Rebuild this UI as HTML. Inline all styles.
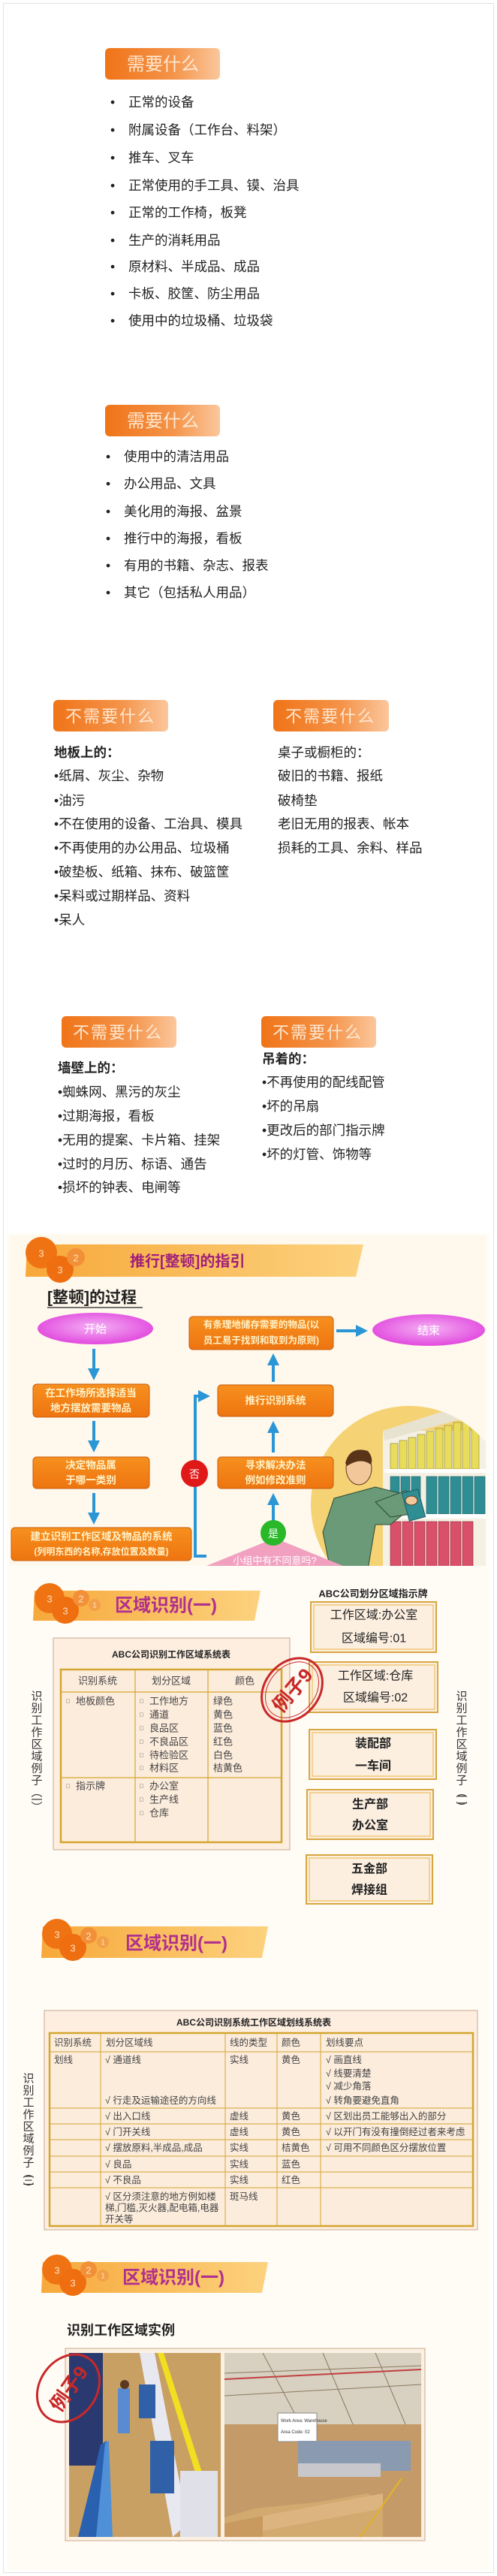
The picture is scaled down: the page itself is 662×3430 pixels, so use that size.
<!DOCTYPE html>
<html><head><meta charset="utf-8"><style>
html,body{margin:0;padding:0;background:#fff}
svg{display:block}
text{font-family:"Liberation Sans","Noto Sans CJK SC",sans-serif}
.s{font-family:"Liberation Serif","Noto Serif CJK SC",serif}
</style></head><body>
<svg width="662" height="3430" viewBox="0 0 662 3430" xmlns="http://www.w3.org/2000/svg">
<defs>
<linearGradient id="btn" x1="0" y1="0" x2="1" y2="0"><stop offset="0" stop-color="#f07418"/><stop offset="0.6" stop-color="#f4944a"/><stop offset="1" stop-color="#fbc79c"/></linearGradient>
<linearGradient id="band" x1="0" y1="0" x2="1" y2="0"><stop offset="0" stop-color="#f7a83a"/><stop offset="1" stop-color="#fcd27e"/></linearGradient>
<linearGradient id="box" x1="0" y1="0" x2="0" y2="1"><stop offset="0" stop-color="#f7901e"/><stop offset="1" stop-color="#ee7410"/></linearGradient>
<radialGradient id="ell" cx="0.5" cy="0.45" r="0.6"><stop offset="0" stop-color="#f4b0f4"/><stop offset="1" stop-color="#e040dc"/></radialGradient>
<clipPath id="pc"><circle cx="545" cy="2003" r="131"/></clipPath>
<clipPath id="pn"><rect x="13" y="1645" width="634" height="440"/></clipPath>
<marker id="ar" markerWidth="4" markerHeight="4" refX="2" refY="2" orient="auto" markerUnits="strokeWidth"><path d="M0,0 L4,2 L0,4 z" fill="#2a96d6"/></marker>
</defs>
<rect x="4.5" y="4.5" width="653" height="3421" fill="#fff" stroke="#e2e2e2"/>

<!-- Section 1 -->
<rect x="140" y="64" width="153" height="42" rx="6" fill="url(#btn)"/>
<text x="169" y="86" font-size="24" fill="#fde8d2" dominant-baseline="central">需要什么</text>
<g font-size="17.5" fill="#222" dominant-baseline="central">
<text x="147" y="136">•</text><text x="171" y="136">正常的设备</text>
<text x="147" y="173">•</text><text x="171" y="173">附属设备（工作台、料架）</text>
<text x="147" y="210">•</text><text x="171" y="210">推车、叉车</text>
<text x="147" y="247">•</text><text x="171" y="247">正常使用的手工具、镆、治具</text>
<text x="147" y="283">•</text><text x="171" y="283">正常的工作椅，板凳</text>
<text x="147" y="320">•</text><text x="171" y="320">生产的消耗用品</text>
<text x="147" y="355">•</text><text x="171" y="355">原材料、半成品、成品</text>
<text x="147" y="391">•</text><text x="171" y="391">卡板、胶筐、防尘用品</text>
<text x="147" y="427">•</text><text x="171" y="427">使用中的垃圾桶、垃圾袋</text>
</g>

<!-- Section 2 -->
<rect x="140" y="539" width="153" height="42" rx="6" fill="url(#btn)"/>
<text x="169" y="561" font-size="24" fill="#fde8d2" dominant-baseline="central">需要什么</text>
<g font-size="17.5" fill="#222" dominant-baseline="central">
<text x="141" y="608">•</text><text x="165" y="608">使用中的清洁用品</text>
<text x="141" y="644">•</text><text x="165" y="644">办公用品、文具</text>
<text x="141" y="681">•</text><text x="165" y="681">美化用的海报、盆景</text>
<text x="141" y="717">•</text><text x="165" y="717">推行中的海报，看板</text>
<text x="141" y="753">•</text><text x="165" y="753">有用的书籍、杂志、报表</text>
<text x="141" y="789">•</text><text x="165" y="789">其它（包括私人用品）</text>
</g>

<!-- Section 3: 不需要什么 -->
<g font-size="22" fill="#fde8d2" dominant-baseline="central" letter-spacing="2">
<rect x="71" y="932" width="153" height="42" rx="6" fill="url(#btn)"/><text x="87" y="954">不需要什么</text>
<rect x="364" y="932" width="154" height="42" rx="6" fill="url(#btn)"/><text x="380" y="954">不需要什么</text>
<rect x="82" y="1353" width="153" height="42" rx="6" fill="url(#btn)"/><text x="97" y="1375">不需要什么</text>
<rect x="348" y="1353" width="153" height="42" rx="6" fill="url(#btn)"/><text x="363" y="1375">不需要什么</text>
</g>
<g font-size="17.5" fill="#222" dominant-baseline="central">
<text x="72" y="1002" font-weight="bold">地板上的：</text>
<text x="72" y="1033">•纸屑、灰尘、杂物</text>
<text x="72" y="1066">•油污</text>
<text x="72" y="1097">•不在使用的设备、工治具、模具</text>
<text x="72" y="1129">•不再使用的办公用品、垃圾桶</text>
<text x="72" y="1161">•破垫板、纸箱、抹布、破篮筐</text>
<text x="72" y="1193">•呆料或过期样品、资料</text>
<text x="72" y="1225">•呆人</text>
<text x="370" y="1002">桌子或橱柜的：</text>
<text x="370" y="1033">破旧的书籍、报纸</text>
<text x="370" y="1066">破椅垫</text>
<text x="370" y="1097">老旧无用的报表、帐本</text>
<text x="370" y="1129">损耗的工具、余料、样品</text>
<text x="77" y="1422" font-weight="bold">墙壁上的：</text>
<text x="77" y="1454">•蜘蛛网、黑污的灰尘</text>
<text x="77" y="1486">•过期海报，看板</text>
<text x="77" y="1518">•无用的提案、卡片箱、挂架</text>
<text x="77" y="1550">•过时的月历、标语、通告</text>
<text x="77" y="1581">•损坏的钟表、电闸等</text>
<text x="349" y="1410" font-weight="bold">吊着的：</text>
<text x="349" y="1441">•不再使用的配线配管</text>
<text x="349" y="1473">•坏的吊扇</text>
<text x="349" y="1505">•更改后的部门指示牌</text>
<text x="349" y="1537">•坏的灯管、饰物等</text>
</g>

<!-- lower cream background -->
<rect x="10" y="1642" width="642" height="1780" fill="#fffcf6"/>

<!-- Flowchart panel -->
<rect x="13" y="1645" width="634" height="440" fill="#fff8ec"/>
<g clip-path="url(#pn)">
<g clip-path="url(#pc)">
<rect x="400" y="1860" width="280" height="260" fill="#f5d374"/>
<rect x="510" y="1905" width="140" height="190" fill="#f4f0e4"/>
<polygon points="510,1905 650,1860 650,1880 512,1918" fill="#e8e2d0"/>
<g fill="#e8dc5a" stroke="#8a8030" stroke-width="0.6">
<rect x="520" y="1922" width="10" height="34"/><rect x="532" y="1918" width="10" height="38"/><rect x="544" y="1914" width="10" height="42"/><rect x="556" y="1910" width="10" height="46"/><rect x="568" y="1906" width="10" height="50"/><rect x="580" y="1902" width="10" height="54"/><rect x="592" y="1898" width="10" height="58"/><rect x="604" y="1894" width="10" height="62"/><rect x="616" y="1890" width="10" height="66"/><rect x="628" y="1886" width="10" height="70"/></g>
<rect x="512" y="1956" width="140" height="5" fill="#fff"/>
<g fill="#2f8e94" stroke="#1a5a60" stroke-width="0.6">
<rect x="520" y="1966" width="12" height="50"/><rect x="534" y="1966" width="12" height="50"/><rect x="548" y="1966" width="12" height="50"/><rect x="568" y="1966" width="14" height="50"/><rect x="584" y="1966" width="14" height="50"/><rect x="600" y="1966" width="14" height="50"/><rect x="616" y="1966" width="14" height="50"/><rect x="632" y="1966" width="14" height="50"/></g>
<rect x="512" y="2016" width="140" height="6" fill="#fff"/>
<g fill="#d8506a" stroke="#8a2030" stroke-width="0.6">
<rect x="520" y="2026" width="14" height="60"/><rect x="536" y="2026" width="14" height="60"/><rect x="552" y="2026" width="14" height="60"/><rect x="568" y="2026" width="14" height="60"/><rect x="584" y="2026" width="14" height="60"/><rect x="600" y="2026" width="14" height="60"/><rect x="616" y="2026" width="14" height="60"/></g>
<polygon points="445,1995 500,1980 540,1990 545,2010 520,2030 500,2030 490,2090 440,2090 430,2040" fill="#6a9a78" stroke="#2c4a34" stroke-width="1"/>
<polygon points="500,2000 540,1985 560,1995 555,2015 520,2020" fill="#6a9a78" stroke="#2c4a34" stroke-width="1"/>
<ellipse cx="478" cy="1955" rx="17" ry="22" fill="#f2c79a" stroke="#5a3a20"/>
<path d="M460,1948 Q466,1925 490,1932 Q498,1942 494,1950 Q480,1940 462,1952 z" fill="#5a3418"/>
<rect x="540" y="1985" width="22" height="38" fill="#2f8e94" stroke="#1a5a60" transform="rotate(-15 551 2004)"/>
<ellipse cx="548" cy="1998" rx="8" ry="6" fill="#f2c79a" stroke="#5a3a20"/>
</g>
</g>
<!-- header band 1 -->
<polygon points="36,1657 484,1657 474,1700 34,1700" fill="url(#band)"/>
<circle cx="55" cy="1668" r="21" fill="#ef7312"/><circle cx="80" cy="1690" r="18" fill="#ee6e10"/><circle cx="101" cy="1674" r="12" fill="#f29038"/>
<g font-size="13" fill="#fde0c0" dominant-baseline="central" text-anchor="middle"><text x="55" y="1669">3</text><text x="80" y="1691">3</text><text x="101" y="1675">2</text></g>
<text x="173" y="1680" font-size="20" font-weight="bold" fill="#a0207a" dominant-baseline="central">推行[整顿]的指引</text>
<text x="63" y="1728" font-size="21" font-weight="bold" fill="#222" dominant-baseline="central">[整顿]的过程</text>
<line x1="63" y1="1741" x2="190" y2="1741" stroke="#222" stroke-width="1.2"/>

<!-- flow nodes -->
<ellipse cx="127" cy="1769" rx="77" ry="21" fill="url(#ell)"/>
<text x="127" y="1770" font-size="15" fill="#fff" text-anchor="middle" dominant-baseline="central">开始</text>
<ellipse cx="571" cy="1771" rx="75" ry="21" fill="url(#ell)"/>
<text x="571" y="1772" font-size="15" fill="#fff" text-anchor="middle" dominant-baseline="central">结束</text>
<g stroke="#c85e10" stroke-width="1" fill="url(#box)">
<rect x="44" y="1843" width="155" height="44" rx="5"/>
<rect x="44" y="1940" width="155" height="42" rx="5"/>
<rect x="15" y="2034" width="240" height="44" rx="5"/>
<rect x="252" y="1753" width="192" height="44" rx="5"/>
<rect x="290" y="1844" width="154" height="42" rx="5"/>
<rect x="290" y="1940" width="154" height="42" rx="5"/>
</g>
<g font-size="13.5" font-weight="bold" fill="#fff2c8" text-anchor="middle" dominant-baseline="central">
<text x="121" y="1855">在工作场所选择适当</text><text x="121" y="1875">地方摆放需要物品</text>
<text x="121" y="1951">决定物品属</text><text x="121" y="1971">于哪一类别</text>
<text x="135" y="2046">建立识别工作区域及物品的系统</text><text x="135" y="2066" font-size="12">(列明东西的名称,存放位置及数量)</text>
<text x="348" y="1764" font-size="12.5">有条理地储存需要的物品(以</text><text x="348" y="1785" font-size="12.5">员工易于找到和取到为原则)</text>
<text x="367" y="1865">推行识别系统</text>
<text x="367" y="1951">寻求解决办法</text><text x="367" y="1971">例如修改准则</text>
</g>
<g stroke="#2a96d6" stroke-width="4" fill="none" marker-end="url(#ar)">
<line x1="125" y1="1796" x2="125" y2="1830"/>
<line x1="125" y1="1892" x2="125" y2="1926"/>
<line x1="125" y1="1988" x2="125" y2="2022"/>
<line x1="364" y1="1840" x2="364" y2="1810"/>
<line x1="364" y1="1934" x2="364" y2="1900"/>
<line x1="364" y1="2030" x2="364" y2="1996"/>
<line x1="448" y1="1772" x2="482" y2="1772"/>
<polyline points="275,2072 260,2072 260,1859 272,1859"/>
</g>
<polygon points="275,2085 366,2048 457,2085" fill="#f2a0c0"/>
<text x="366" y="2078" font-size="13" fill="#fff" text-anchor="middle" dominant-baseline="central">小组中有不同意吗?</text>
<circle cx="259" cy="1962" r="18" fill="#e01818"/><text x="259" y="1963" font-size="14" fill="#fff" text-anchor="middle" dominant-baseline="central">否</text>
<circle cx="364" cy="2041" r="17" fill="#28b828"/><text x="364" y="2042" font-size="14" fill="#fff" text-anchor="middle" dominant-baseline="central">是</text>

<!-- header band 2 -->
<polygon points="46,2118 347,2118 339,2158 44,2158" fill="url(#band)"/>
<circle cx="66" cy="2128" r="20" fill="#ef7312"/><circle cx="87" cy="2144" r="18" fill="#ee6e10"/><circle cx="108" cy="2128" r="11" fill="#f29038"/><circle cx="126" cy="2137" r="8" fill="#f3a048"/>
<g font-size="13" fill="#fde0c0" dominant-baseline="central" text-anchor="middle"><text x="66" y="2129">3</text><text x="87" y="2145">3</text><text x="108" y="2129">2</text><text x="126" y="2138" font-size="10">1</text></g>
<text x="153" y="2138" font-size="24" font-weight="bold" fill="#b0308e" dominant-baseline="central">区域识别(一)</text>

<text x="497" y="2122" font-size="13" font-weight="bold" fill="#222" text-anchor="middle" dominant-baseline="central">ABC公司划分区域指示牌</text>

<!-- table 1 -->
<rect x="71" y="2181" width="315" height="282" fill="#fdeee0" stroke="#c8a890"/>
<text x="228" y="2203" font-size="12" font-weight="bold" fill="#222" text-anchor="middle" dominant-baseline="central">ABC公司识别工作区域系统表</text>
<rect x="81" y="2223" width="294" height="230" fill="#fcecdc" stroke="#d4a530" stroke-width="2.5"/>
<g stroke="#d4a530" stroke-width="1.2"><line x1="180" y1="2223" x2="180" y2="2453"/><line x1="277" y1="2223" x2="277" y2="2453"/><line x1="81" y1="2253" x2="375" y2="2253"/><line x1="81" y1="2367" x2="375" y2="2367"/></g>
<g class="s" font-size="13" fill="#444" dominant-baseline="central">
<text x="130" y="2238" text-anchor="middle">识别系统</text><text x="228" y="2238" text-anchor="middle">划分区域</text><text x="326" y="2238" text-anchor="middle">颜色</text>
<text x="88" y="2265" font-size="8">□</text><text x="101" y="2265">地板颜色</text>
<text x="88" y="2378" font-size="8">□</text><text x="101" y="2378">指示牌</text>
<text x="186" y="2265" font-size="8">□</text><text x="199" y="2265">工作地方</text>
<text x="186" y="2283" font-size="8">□</text><text x="199" y="2283">通道</text>
<text x="186" y="2301" font-size="8">□</text><text x="199" y="2301">良品区</text>
<text x="186" y="2319" font-size="8">□</text><text x="199" y="2319">不良品区</text>
<text x="186" y="2337" font-size="8">□</text><text x="199" y="2337">待检验区</text>
<text x="186" y="2354" font-size="8">□</text><text x="199" y="2354">材料区</text>
<text x="186" y="2378" font-size="8">□</text><text x="199" y="2378">办公室</text>
<text x="186" y="2396" font-size="8">□</text><text x="199" y="2396">生产线</text>
<text x="186" y="2414" font-size="8">□</text><text x="199" y="2414">仓库</text>
<text x="284" y="2265">绿色</text><text x="284" y="2283">黄色</text><text x="284" y="2301">蓝色</text><text x="284" y="2319">红色</text><text x="284" y="2337">白色</text><text x="284" y="2354">桔黄色</text>
</g>

<!-- right sign boxes -->
<g fill="#fcefe0" stroke="#d8a640" stroke-width="2">
<rect x="414" y="2133" width="167" height="67"/><rect x="412" y="2213" width="171" height="67"/>
<rect x="412" y="2303" width="169" height="66"/><rect x="409" y="2383" width="168" height="66"/><rect x="408" y="2470" width="168" height="65"/>
</g>
<g fill="none" stroke="#f0c878" stroke-width="1.5">
<rect x="418" y="2137" width="159" height="59"/><rect x="416" y="2217" width="163" height="59"/>
<rect x="416" y="2307" width="161" height="58"/><rect x="413" y="2387" width="160" height="58"/><rect x="412" y="2474" width="160" height="57"/>
</g>
<g font-size="16" fill="#222" text-anchor="middle" dominant-baseline="central">
<text x="498" y="2151">工作区域:办公室</text><text x="498" y="2182">区域编号:01</text>
<text x="500" y="2232">工作区域:仓库</text><text x="500" y="2261">区域编号:02</text>
<g font-weight="bold"><text x="497" y="2322">装配部</text><text x="497" y="2352">一车间</text>
<text x="493" y="2403">生产部</text><text x="493" y="2431">办公室</text>
<text x="492" y="2489">五金部</text><text x="492" y="2517">焊接组</text></g>
</g>
<g transform="rotate(-50 389 2250)">
<ellipse cx="389" cy="2250" rx="46" ry="36" fill="none" stroke="#c82828" stroke-width="3"/>
<ellipse cx="389" cy="2250" rx="41" ry="31" fill="none" stroke="#c82828" stroke-width="1"/>
<text x="389" y="2251" font-size="26" font-weight="bold" fill="#c82828" text-anchor="middle" dominant-baseline="central">例子9</text>
</g>
<g font-size="15" fill="#333" text-anchor="middle" dominant-baseline="central">
<text x="49" y="2259">识</text><text x="49" y="2275">别</text><text x="49" y="2291">工</text><text x="49" y="2307">作</text><text x="49" y="2323">区</text><text x="49" y="2339">域</text><text x="49" y="2355">例</text><text x="49" y="2371">子</text><text x="49" y="2387">︵</text><text x="49" y="2397">一</text><text x="49" y="2407">︶</text>
<text x="615" y="2259">识</text><text x="615" y="2275">别</text><text x="615" y="2291">工</text><text x="615" y="2307">作</text><text x="615" y="2323">区</text><text x="615" y="2339">域</text><text x="615" y="2355">例</text><text x="615" y="2371">子</text><text x="615" y="2387">︵</text><text x="615" y="2397">二</text><text x="615" y="2407">︶</text>
<text x="38" y="2768">识</text><text x="38" y="2784">别</text><text x="38" y="2800">工</text><text x="38" y="2816">作</text><text x="38" y="2832">区</text><text x="38" y="2848">域</text><text x="38" y="2864">例</text><text x="38" y="2880">子</text><text x="38" y="2894">︵</text><text x="38" y="2904">三</text><text x="38" y="2914">︶</text>
</g>

<!-- header band 3 -->
<polygon points="57,2565 357,2565 349,2607 55,2607" fill="url(#band)"/>
<circle cx="76" cy="2575" r="20" fill="#ef7312"/><circle cx="97" cy="2593" r="18" fill="#ee6e10"/><circle cx="118" cy="2577" r="11" fill="#f29038"/><circle cx="137" cy="2586" r="8" fill="#f3a048"/>
<g font-size="13" fill="#fde0c0" dominant-baseline="central" text-anchor="middle"><text x="76" y="2576">3</text><text x="97" y="2594">3</text><text x="118" y="2578">2</text><text x="137" y="2587" font-size="10">1</text></g>
<text x="167" y="2588" font-size="24" font-weight="bold" fill="#b0308e" dominant-baseline="central">区域识别(一)</text>

<!-- table 2 -->
<rect x="59" y="2677" width="577" height="292" fill="#fdeee0" stroke="#c8a890"/>
<text x="338" y="2693" font-size="12" font-weight="bold" fill="#222" text-anchor="middle" dominant-baseline="central">ABC公司识别系统工作区域划线系统表</text>
<rect x="66" y="2707" width="564" height="257" fill="#fcecdc" stroke="#d4a530" stroke-width="2.5"/>
<g stroke="#d4a530" stroke-width="1">
<line x1="134" y1="2707" x2="134" y2="2964"/><line x1="300" y1="2707" x2="300" y2="2964"/><line x1="369" y1="2707" x2="369" y2="2964"/><line x1="427" y1="2707" x2="427" y2="2964"/>
<line x1="66" y1="2732" x2="630" y2="2732"/><line x1="66" y1="2807" x2="630" y2="2807"/><line x1="66" y1="2828" x2="630" y2="2828"/><line x1="66" y1="2849" x2="630" y2="2849"/><line x1="66" y1="2871" x2="630" y2="2871"/><line x1="66" y1="2892" x2="630" y2="2892"/><line x1="66" y1="2913" x2="630" y2="2913"/>
</g>
<g class="s" font-size="12.5" fill="#444" dominant-baseline="central">
<text x="72" y="2720">识别系统</text><text x="141" y="2720">划分区域线</text><text x="306" y="2720">线的类型</text><text x="375" y="2720">颜色</text><text x="434" y="2720">划线要点</text>
<text x="72" y="2743">划线</text>
<text x="140" y="2743">√ 通道线</text><text x="140" y="2797">√ 行走及运输途径的方向线</text>
<text x="306" y="2743">实线</text><text x="375" y="2743">黄色</text>
<text x="434" y="2743">√ 画直线</text><text x="434" y="2761">√ 线要清楚</text><text x="434" y="2778">√ 减少角落</text><text x="434" y="2797">√ 转角要避免直角</text>
<text x="140" y="2818">√ 出入口线</text><text x="306" y="2818">虚线</text><text x="375" y="2818">黄色</text><text x="434" y="2818">√ 区划出员工能够出入的部分</text>
<text x="140" y="2839">√ 门开关线</text><text x="306" y="2839">虚线</text><text x="375" y="2839">黄色</text><text x="434" y="2839">√ 以开门有没有撞倒经过者来考虑</text>
<text x="140" y="2860">√ 摆放原料,半成品,成品</text><text x="306" y="2860">实线</text><text x="375" y="2860">桔黄色</text><text x="434" y="2860">√ 可用不同颜色区分摆放位置</text>
<text x="140" y="2882">√ 良品</text><text x="306" y="2882">实线</text><text x="375" y="2882">蓝色</text>
<text x="140" y="2903">√ 不良品</text><text x="306" y="2903">实线</text><text x="375" y="2903">红色</text>
<text x="140" y="2925">√ 区分须注意的地方例如楼</text><text x="140" y="2940">梯,门槛,灭火器,配电箱,电器</text><text x="140" y="2955">开关等</text>
<text x="306" y="2925">斑马线</text>
</g>

<!-- header band 4 -->
<polygon points="57,3012 357,3012 349,3053 55,3053" fill="url(#band)"/>
<circle cx="76" cy="3022" r="20" fill="#ef7312"/><circle cx="97" cy="3039" r="18" fill="#ee6e10"/><circle cx="118" cy="3022" r="11" fill="#f29038"/><circle cx="137" cy="3030" r="8" fill="#f3a048"/>
<g font-size="13" fill="#fde0c0" dominant-baseline="central" text-anchor="middle"><text x="76" y="3023">3</text><text x="97" y="3040">3</text><text x="118" y="3023">2</text><text x="137" y="3031" font-size="10">1</text></g>
<text x="163" y="3033" font-size="24" font-weight="bold" fill="#b0308e" dominant-baseline="central">区域识别(一)</text>
<text x="89" y="3103" font-size="18" font-weight="bold" fill="#222" dominant-baseline="central">识别工作区域实例</text>

<!-- photos -->
<rect x="87" y="3127" width="479" height="256" fill="#fbf0e2" stroke="#c8a888"/>
<rect x="92" y="3133" width="202" height="245" fill="#c9a064"/>
<rect x="92" y="3133" width="45" height="150" fill="#2a3a70"/>
<polygon points="104,3378 130,3378 142,3250 134,3255" fill="#2a60b0"/>
<polygon points="128,3378 150,3378 145,3250 140,3253" fill="#5090d8"/>
<polygon points="186,3133 206,3133 250,3360 230,3378" fill="#e8e8f0"/>
<polygon points="210,3133 218,3133 278,3320 272,3330" fill="#f0e020"/>
<rect x="240" y="3290" width="50" height="88" fill="#e0e0e8"/>
<rect x="200" y="3250" width="32" height="70" fill="#3060a8"/>
<rect x="185" y="3175" width="22" height="45" fill="#3060a8"/>
<rect x="157" y="3180" width="16" height="60" fill="#5a8ad0"/>
<circle cx="166" cy="3175" r="6" fill="#5a3a20"/>
<rect x="299" y="3133" width="262" height="245" fill="#c49a68"/>
<rect x="299" y="3133" width="262" height="95" fill="#d8d0c0"/>
<g stroke="#8a7a60" stroke-width="1"><line x1="299" y1="3160" x2="561" y2="3150"/><line x1="299" y1="3190" x2="561" y2="3175"/><line x1="350" y1="3133" x2="400" y2="3228"/><line x1="430" y1="3133" x2="470" y2="3228"/><line x1="500" y1="3133" x2="540" y2="3228"/></g>
<line x1="299" y1="3168" x2="561" y2="3155" stroke="#c04040" stroke-width="2"/>
<rect x="370" y="3213" width="52" height="38" fill="#fff" stroke="#888"/>
<text x="374" y="3225" font-size="6" fill="#333">Work Area: Warehouse</text><text x="374" y="3240" font-size="6" fill="#333">Area Code: 02</text>
<rect x="397" y="3250" width="150" height="40" fill="#8a9ab0"/>
<rect x="397" y="3280" width="110" height="18" fill="#c8c8cc"/>
<polygon points="299,3352 340,3340 420,3332 490,3320 510,3330 510,3378 299,3378" fill="#d2aa70"/>
<polygon points="299,3360 350,3350 350,3378 299,3378" fill="#c89a60"/>
<polygon points="350,3350 430,3335 510,3320 510,3340 350,3370" fill="#dcb480"/>
<line x1="480" y1="3378" x2="535" y2="3300" stroke="#e0b030" stroke-width="2.5"/>
<g transform="rotate(-55 91 3180)">
<ellipse cx="91" cy="3180" rx="48" ry="38" fill="none" stroke="#c82828" stroke-width="3"/>
<text x="91" y="3181" font-size="26" font-weight="bold" fill="#c82828" text-anchor="middle" dominant-baseline="central">例子9</text>
</g>
</svg>
</body></html>
